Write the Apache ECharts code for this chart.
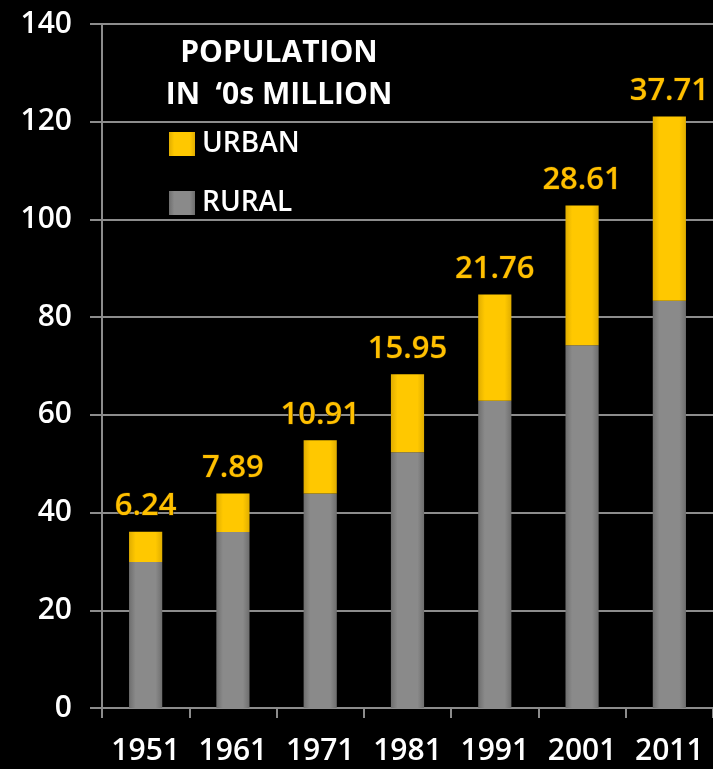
<!DOCTYPE html>
<html>
<head>
<meta charset="utf-8">
<script src="https://cdn.jsdelivr.net/npm/echarts@6/dist/echarts.min.js"></script>
<style>
  html, body { margin: 0; padding: 0; background: #000; }
  #chart { width: 713px; height: 769px; }
</style>
</head>
<body>
<div id="chart"></div>
<script>
// population in tens of millions
const years = ['1951', '1961', '1971', '1981', '1991', '2001', '2011']
const rural = [29.86, 36.00, 43.90, 52.36, 62.87, 74.26, 83.37]
const urban = [6.24, 7.89, 10.91, 15.95, 21.76, 28.61, 37.71]
const yTicks = [0, 20, 40, 60, 80, 100, 120, 140]

const font = '"Open Sans", "Liberation Sans", sans-serif'

const grayFill = new echarts.graphic.LinearGradient(0, 0, 1, 0, [
  { offset: 0, color: '#6e6e6e' },
  { offset: 0.2, color: '#8a8a8a' },
  { offset: 0.8, color: '#8a8a8a' },
  { offset: 1, color: '#6e6e6e' },
])
const goldFill = new echarts.graphic.LinearGradient(0, 0, 1, 0, [
  { offset: 0, color: '#e0ad00' },
  { offset: 0.2, color: '#ffc800' },
  { offset: 0.8, color: '#ffc800' },
  { offset: 1, color: '#e0ad00' },
])

const chart = echarts.init(document.getElementById('chart'))
chart.setOption({
  backgroundColor: '#000',
  animation: false,
  title: {
    text: 'POPULATION\nIN  \u20180s MILLION',
    left: 274,
    top: 27,
    textAlign: 'center',
    textStyle: {
      color: '#fff',
      fontFamily: font,
      fontWeight: 'bold',
      fontSize: 30,
      lineHeight: 42,
    },
  },
  legend: {
    data: ['URBAN', 'RURAL'],
    orient: 'vertical',
    left: 164,
    top: 125,
    itemWidth: 26,
    itemHeight: 24,
    itemGap: 31,
    icon: 'rect',
    textStyle: {
      color: '#fff',
      fontFamily: font,
      fontWeight: 600,
      fontSize: 28,
      lineHeight: 24,
      padding: [0, 0, 0, 2],
    },
  },
  grid: {
    left: 102,
    right: 0,
    top: 24,
    bottom: 61,
  },
  xAxis: {
    type: 'category',
    data: years,
    axisLine: { lineStyle: { color: '#8c8c8c', width: 2 } },
    axisTick: { show: true, length: 10, lineStyle: { color: '#8c8c8c', width: 2 } },
    axisLabel: {
      interval: 0,
      hideOverlap: false,
      color: '#fff',
      fontFamily: font,
      fontWeight: 600,
      fontSize: 30,
      margin: 28,
    },
  },
  yAxis: {
    type: 'value',
    min: yTicks[0],
    max: yTicks[yTicks.length - 1],
    interval: 20,
    axisLine: { show: true, lineStyle: { color: '#8c8c8c', width: 2 } },
    axisTick: { show: true, length: 12, lineStyle: { color: '#8c8c8c', width: 2 } },
    splitLine: { lineStyle: { color: '#8c8c8c', width: 2 } },
    axisLabel: {
      color: '#fff',
      fontFamily: font,
      fontWeight: 600,
      fontSize: 30,
      margin: 30,
    },
  },
  series: [
    {
      name: 'RURAL',
      type: 'bar',
      stack: 'pop',
      barWidth: '38%',
      data: rural,
      itemStyle: { color: grayFill },
    },
    {
      name: 'URBAN',
      type: 'bar',
      stack: 'pop',
      barWidth: '38%',
      data: urban,
      itemStyle: { color: goldFill },
      label: {
        show: true,
        position: 'top',
        distance: 10,
        color: '#ffc000',
        fontFamily: font,
        fontWeight: 600,
        fontSize: 31,
        textBorderColor: '#3a2a00',
        textBorderWidth: 1,
        formatter: p => p.value.toFixed(2),
      },
    },
  ],
})
</script>
</body>
</html>
